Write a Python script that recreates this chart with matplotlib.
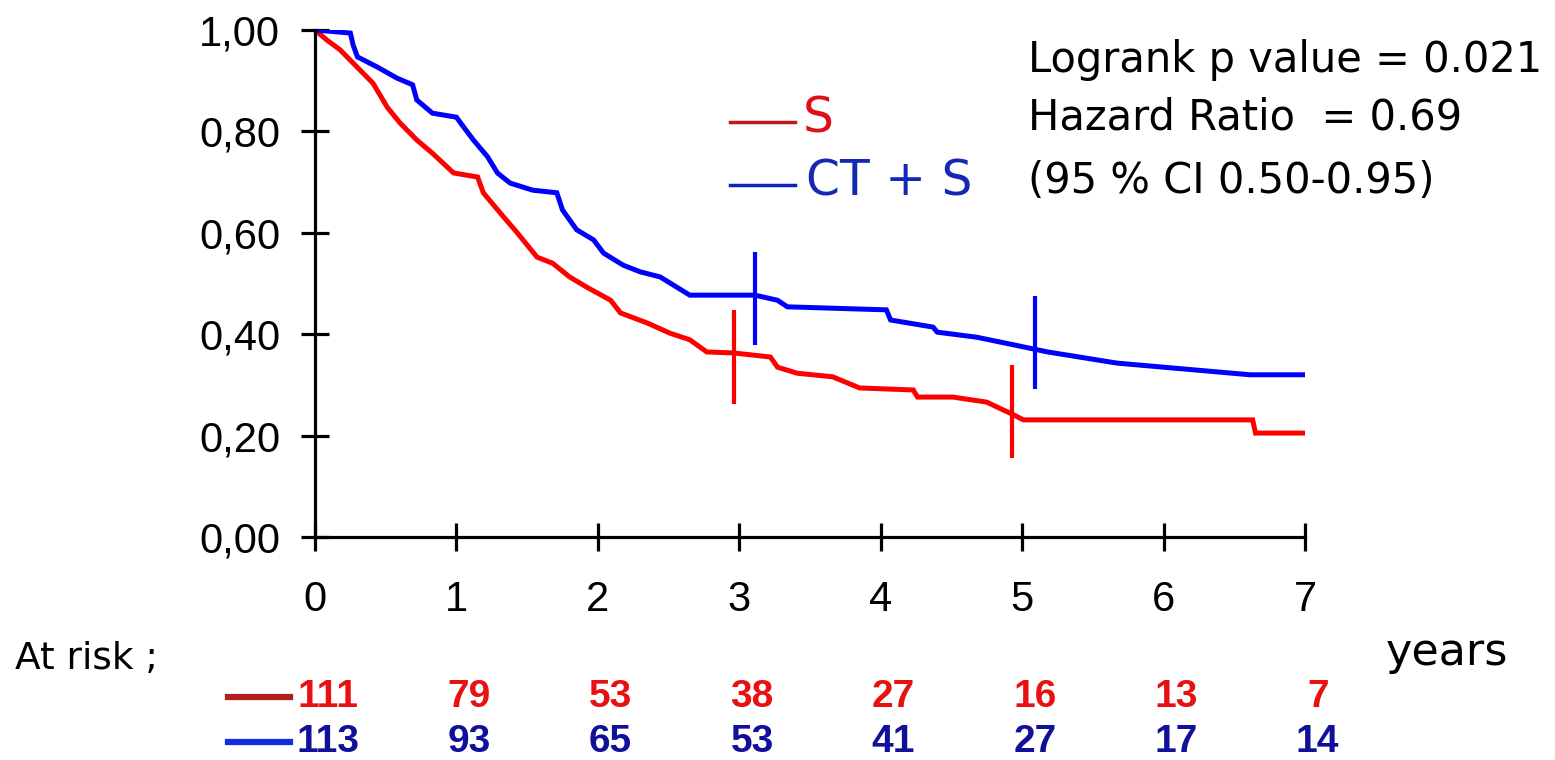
import matplotlib
matplotlib.use('Agg')
import matplotlib.pyplot as plt

plt.rcParams['font.family'] = ['Liberation Sans', 'DejaVu Sans']

## Kaplan-Meier curves (years, survival)
s_time = [0, 0.085, 0.177, 0.318, 0.41, 0.51, 0.60, 0.72, 0.83, 0.98, 1.15, 1.19, 1.31,
          1.43, 1.57, 1.68, 1.80, 1.92, 2.09, 2.16, 2.35, 2.51, 2.65, 2.77, 2.96, 3.22,
          3.27, 3.41, 3.66, 3.85, 4.23, 4.26, 4.51, 4.75, 4.84, 4.91, 5.01, 6.63, 6.65, 7.0]
s_surv = [1.0, 0.980, 0.961, 0.921, 0.895, 0.848, 0.817, 0.783, 0.757, 0.718, 0.710, 0.679, 0.639,
          0.600, 0.552, 0.540, 0.513, 0.493, 0.467, 0.442, 0.422, 0.402, 0.389, 0.365, 0.363, 0.355,
          0.335, 0.323, 0.316, 0.294, 0.290, 0.276, 0.276, 0.266, 0.254, 0.245, 0.231, 0.231, 0.205, 0.205]

cts_time = [0, 0.25, 0.27, 0.30, 0.44, 0.58, 0.69, 0.72, 0.83, 1.00, 1.05, 1.12, 1.22, 1.29,
            1.38, 1.54, 1.71, 1.75, 1.85, 1.97, 2.04, 2.18, 2.30, 2.44, 2.65, 3.11, 3.27, 3.34,
            4.04, 4.07, 4.37, 4.40, 4.68, 4.94, 5.18, 5.67, 6.61, 7.0]
cts_surv = [1.0, 0.994, 0.970, 0.947, 0.927, 0.905, 0.892, 0.862, 0.836, 0.828, 0.809, 0.783, 0.750, 0.718,
            0.698, 0.684, 0.679, 0.645, 0.606, 0.586, 0.560, 0.536, 0.523, 0.513, 0.477, 0.477, 0.467, 0.454,
            0.448, 0.428, 0.414, 0.404, 0.394, 0.379, 0.365, 0.343, 0.320, 0.320]

## censor marks (time, level)
s_cens_t = [2.96, 4.93]
s_cens_s = [0.355, 0.248]
cts_cens_t = [3.11, 5.09]
cts_cens_s = [0.471, 0.384]

## numbers at risk
risk_years = [0, 1, 2, 3, 4, 5, 6, 7]
risk_s = [111, 79, 53, 38, 27, 16, 13, 7]
risk_cts = [113, 93, 65, 53, 41, 27, 17, 14]

y_ticks = [0, 0.2, 0.4, 0.6, 0.8, 1.0]
y_ticklabels = ['0,00', '0,20', '0,40', '0,60', '0,80', '1,00']

RED = '#ff0000'
BLUE = '#0000ff'
THIN = ['DejaVu Sans']

fig = plt.figure(figsize=(15.55, 7.6), dpi=100)
ax = fig.add_axes([315 / 1555, 1 - 537 / 760, 990 / 1555, 507 / 760])

ax.plot(s_time, s_surv, color=RED, lw=3.6, solid_joinstyle='miter')
ax.plot(cts_time, cts_surv, color=BLUE, lw=3.6, solid_joinstyle='miter')

half = 0.092
ax.vlines(s_cens_t, [v - half for v in s_cens_s], [v + half for v in s_cens_s], color=RED, lw=3)
ax.vlines(cts_cens_t, [v - half for v in cts_cens_s], [v + half for v in cts_cens_s], color=BLUE, lw=3)

ax.set_xlim(0, 7)
ax.set_ylim(0, 1)
ax.set_xticks(risk_years)
ax.set_yticks(y_ticks)
ax.set_yticklabels(y_ticklabels)
for side in ['top', 'right']:
    ax.spines[side].set_visible(False)
for side in ['left', 'bottom']:
    ax.spines[side].set_linewidth(2.3)
ax.tick_params(direction='inout', length=20, width=2.3, labelsize=30)
ax.tick_params(axis='y', pad=15)
ax.tick_params(axis='x', pad=21)

## legend drawn by hand
ax.plot([0.419, 0.485], [0.819, 0.819], transform=ax.transAxes, color='#c01818', lw=2.5, clip_on=False)
ax.plot([0.419, 0.485], [0.694, 0.694], transform=ax.transAxes, color='#1020c0', lw=2.5, clip_on=False)
ax.text(0.493, 0.826, 'S', transform=ax.transAxes, color='#e0101a', fontsize=35, va='center', family=THIN)
ax.text(0.496, 0.701, 'CT + S', transform=ax.transAxes, color='#1428b4', fontsize=35, va='center', family=THIN)

## stats
ax.text(0.720, 0.940, 'Logrank p value = 0.021', transform=ax.transAxes, fontsize=30, va='center', family=THIN)
ax.text(0.720, 0.827, 'Hazard Ratio  = 0.69', transform=ax.transAxes, fontsize=30, va='center', family=THIN)
ax.text(0.720, 0.703, '(95 % CI 0.50-0.95)', transform=ax.transAxes, fontsize=30, va='center', family=THIN)

## at-risk table
ax.text(-0.303, -0.24, 'At risk ;', transform=ax.transAxes, fontsize=27, va='center', family=THIN)
ax.text(1.081, -0.228, 'years', transform=ax.transAxes, fontsize=32, va='center', family=THIN)
ax.plot([-0.088, -0.025], [-0.316, -0.316], transform=ax.transAxes, color='#b02020', lw=4.5, clip_on=False)
ax.plot([-0.088, -0.025], [-0.404, -0.404], transform=ax.transAxes, color='#1030e0', lw=4.5, clip_on=False)
tr = ax.get_xaxis_transform()
for t, a, b in zip(risk_years, risk_s, risk_cts):
    ax.text(t + 0.09, -0.316, str(a), transform=tr, color='#e81010', fontsize=28,
            fontweight='bold', ha='center', va='center')
    ax.text(t + 0.09, -0.404, str(b), transform=tr, color='#10109a', fontsize=28,
            fontweight='bold', ha='center', va='center')

fig.savefig('out.png', dpi=100)
